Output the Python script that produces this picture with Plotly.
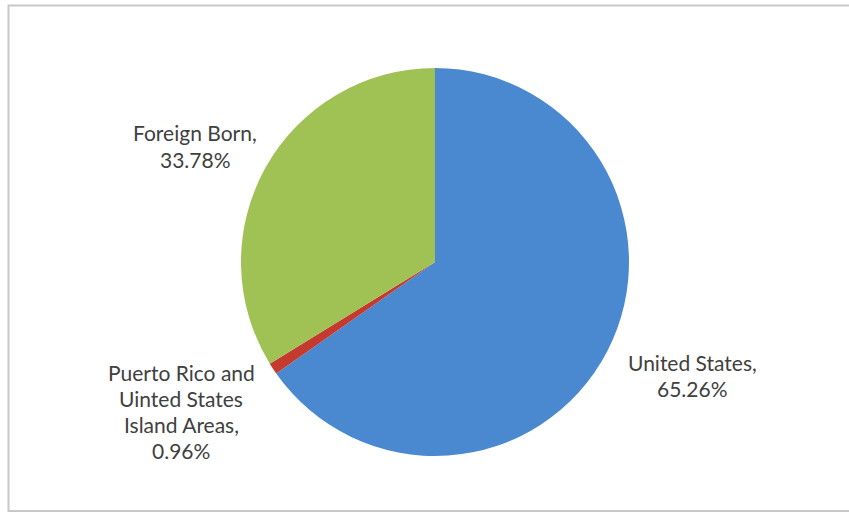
import plotly.graph_objects as go

categories = ["United States", "Puerto Rico and Uinted States Island Areas", "Foreign Born"]
values = [65.26, 0.96, 33.78]
colors = ["#4A89CF", "#C43A2E", "#A0C254"]
label_lines = [
    ["United States,", "65.26%"],
    ["Puerto Rico and", "Uinted States", "Island Areas,", "0.96%"],
    ["Foreign Born,", "33.78%"],
]
label_pos = [(692, 362), (181, 372), (195, 133)]

W, H = 849, 514
cx, cy, r = 435, 262, 194

fig = go.Figure(go.Pie(
    labels=categories, values=values, sort=False, direction="clockwise",
    rotation=0, marker=dict(colors=colors, line=dict(width=0)),
    textinfo="none", hoverinfo="label+percent", showlegend=False,
    domain=dict(x=[(cx - r) / W, (cx + r) / W], y=[(H - cy - r) / H, (H - cy + r) / H]),
))

annotations = []
for lines, (x, y) in zip(label_lines, label_pos):
    for i, t in enumerate(lines):
        annotations.append(dict(
            text=t, x=x / W, y=1 - (y + i * 26.3) / H, xref="paper", yref="paper",
            showarrow=False, xanchor="center", yanchor="middle",
            font=dict(family="Lato", size=21, color="#404040"),
        ))

fig.update_layout(
    width=W, height=H, margin=dict(l=0, r=0, t=0, b=0),
    paper_bgcolor="white", plot_bgcolor="white",
    annotations=annotations,
    shapes=[dict(type="rect", xref="paper", yref="paper",
                 x0=8.5 / W, x1=1.03, y0=1 - 511 / H, y1=1 - 5.5 / H,
                 line=dict(color="#C8C8C8", width=2))],
)
fig.write_html("out.html", config={"displayModeBar": False},
               post_script="document.body.style.margin='0';document.body.style.overflow='hidden';")
